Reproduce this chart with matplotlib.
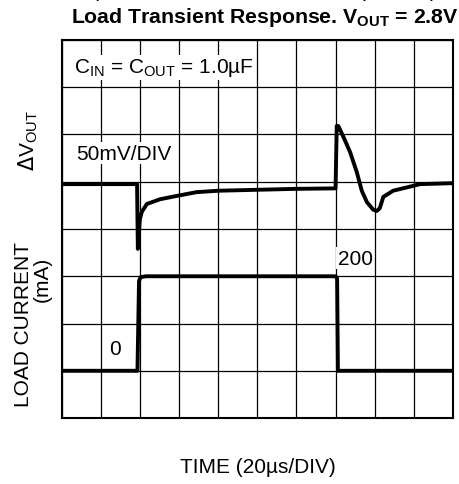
import numpy as np
import matplotlib.pyplot as plt

plt.rcParams['font.family'] = ['Liberation Sans', 'DejaVu Sans']

# scope traces, x in time divisions, y in vertical divisions
vout_t = [0, 1.93, 1.95, 2.0, 2.05, 2.18, 2.52, 2.94, 3.45, 4.0, 5.0, 6.0, 7.0, 7.03,
          7.07, 7.20, 7.37, 7.54, 7.67, 7.80, 7.96, 8.05, 8.13, 8.22, 8.47, 8.82, 9.16, 10.0]
vout_v = [4.95, 4.95, 3.58, 4.2, 4.36, 4.53, 4.63, 4.70, 4.78, 4.81, 4.83, 4.85, 4.86, 6.18,
          6.18, 5.95, 5.63, 5.21, 4.81, 4.57, 4.41, 4.38, 4.44, 4.68, 4.81, 4.88, 4.95, 4.97]

iload_t = [0, 1.94, 1.98, 2.02, 2.15, 7.0, 7.04, 7.06, 10.0]
iload_v = [1.0, 1.0, 2.9, 2.98, 3.0, 3.0, 2.95, 1.0, 1.0]

fs = 15

fig = plt.figure(figsize=(4.6, 4.85), dpi=100)
ax = fig.add_axes([0.1337, 0.136, 0.8511, 0.7795])

ax.set_xlim(0, 10)
ax.set_ylim(0, 8)
ax.set_xticks(np.arange(0, 11))
ax.set_yticks(np.arange(0, 9))
ax.grid(True, color='black', lw=0.9)
ax.tick_params(length=0, labelbottom=False, labelleft=False)
for s in ax.spines.values():
    s.set_linewidth(1.5)

ax.plot(vout_t, vout_v, color='black', lw=2.8, solid_joinstyle='round')
ax.plot(iload_t, iload_v, color='black', lw=2.8, solid_joinstyle='round')

box = dict(facecolor='white', edgecolor='none', pad=1)
ax.text(0.33, 7.42, r'C$_{\mathregular{IN}}$ = C$_{\mathregular{OUT}}$ = 1.0µF', fontsize=fs,
        va='center', ha='left', bbox=box)
ax.text(0.38, 5.6, '50mV/DIV', fontsize=fs, va='center', ha='left', bbox=box)
ax.text(7.06, 3.38, '200', fontsize=fs, va='center', ha='left', bbox=box)
ax.text(1.22, 1.48, '0', fontsize=fs, va='center', ha='left', bbox=box)

fig.text(0.575, 0.963, r'Load Transient Response. V$_{\mathregular{OUT}}$ = 2.8V',
         fontsize=15.3, fontweight='bold', ha='center', va='center')
# line above the title is cut off by the top edge in the original
fig.text(0.575, 1.007, r'(V$_{\mathregular{IN}}$ = V$_{\mathregular{OUT}}$ + 1V, C$_{\mathregular{OUT}}$ = 1.0µF, C$_{\mathregular{IN}}$)',
         fontsize=15.3, ha='center', va='baseline')

fig.text(0.061, 0.711, r'$\Delta$V$_{\mathregular{OUT}}$', fontsize=fs, rotation=90,
         ha='center', va='center')
fig.text(0.052, 0.33, 'LOAD CURRENT', fontsize=fs, rotation=90, ha='center', va='center')
fig.text(0.092, 0.423, '(mA)', fontsize=fs, rotation=90, ha='center', va='center')
fig.text(0.561, 0.037, 'TIME (20µs/DIV)', fontsize=fs, ha='center', va='center')

fig.savefig('out.png', dpi=100)
